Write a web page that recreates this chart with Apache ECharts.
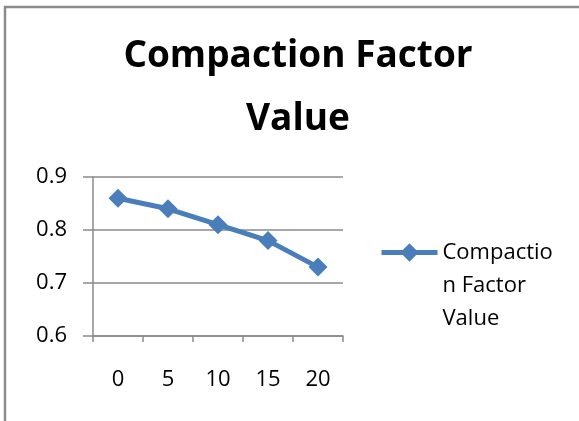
<!DOCTYPE html>
<html>
<head>
<meta charset="utf-8">
<script src="https://cdn.jsdelivr.net/npm/echarts@6/dist/echarts.min.js"></script>
<style>
  html, body { margin: 0; padding: 0; background: #fff; }
  #chart { width: 579px; height: 421px; }
</style>
</head>
<body>
<div id="chart"></div>
<script>
// Compaction factor measured at each mix step
const categories = ['0', '5', '10', '15', '20'];
const compactionValues = [0.86, 0.84, 0.81, 0.78, 0.73];
const seriesName = 'Compaction Factor Value';
const titleText = 'Compaction Factor\nValue';
// legend label wrapped the way the chart box wraps it; blank lines keep the
// icon level with the first line
const legendLabel = '\n\nCompactio\nn Factor\nValue';

const FONT = '"Open Sans", "Liberation Sans", sans-serif';
const AXIS_GREY = '#8a8a8a';
const LINE_BLUE = '#4a7ebb';

const chart = echarts.init(document.getElementById('chart'), null, { renderer: 'canvas' });

chart.setOption({
  animation: false,
  backgroundColor: '#ffffff',
  graphic: [{
    type: 'rect',
    shape: { x: 5, y: 7, width: 620, height: 460 },
    style: { fill: 'none', stroke: '#8c8c8c', lineWidth: 2.5 },
    silent: true
  }],
  title: {
    text: titleText,
    left: 293,
    textAlign: 'center',
    top: 20,
    textStyle: {
      fontFamily: FONT,
      fontWeight: 'bold',
      fontSize: 37,
      lineHeight: 63,
      color: '#000'
    }
  },
  legend: {
    data: [seriesName],
    left: 374,
    top: 165,
    orient: 'vertical',
    itemWidth: 56,
    itemHeight: 23,
    formatter: () => legendLabel,
    lineStyle: { width: 5 },
    textStyle: {
      fontFamily: FONT,
      fontSize: 22,
      lineHeight: 33,
      color: '#000'
    }
  },
  grid: { left: 93, right: 236, top: 177, bottom: 85 },
  xAxis: {
    type: 'category',
    data: categories,
    boundaryGap: true,
    axisLine: { lineStyle: { color: AXIS_GREY, width: 1.5 } },
    axisTick: { show: true, length: 6, inside: false, lineStyle: { color: AXIS_GREY, width: 1.5 } },
    axisLabel: { fontFamily: FONT, fontSize: 22, color: '#000', margin: 33 }
  },
  yAxis: {
    type: 'value',
    min: 0.6,
    max: 0.9,
    interval: 0.1,
    axisLine: { show: true, lineStyle: { color: AXIS_GREY, width: 1.5 } },
    axisTick: { show: true, length: 10, lineStyle: { color: AXIS_GREY, width: 1.5 } },
    axisLabel: { fontFamily: FONT, fontSize: 22, color: '#000', margin: 26,
      formatter: v => v.toFixed(1) },
    splitLine: { lineStyle: { color: AXIS_GREY, width: 1.5 } }
  },
  series: [{
    name: seriesName,
    type: 'line',
    data: compactionValues,
    symbol: 'diamond',
    symbolSize: 19,
    lineStyle: { color: LINE_BLUE, width: 5 },
    itemStyle: { color: LINE_BLUE }
  }]
});
</script>
</body>
</html>
